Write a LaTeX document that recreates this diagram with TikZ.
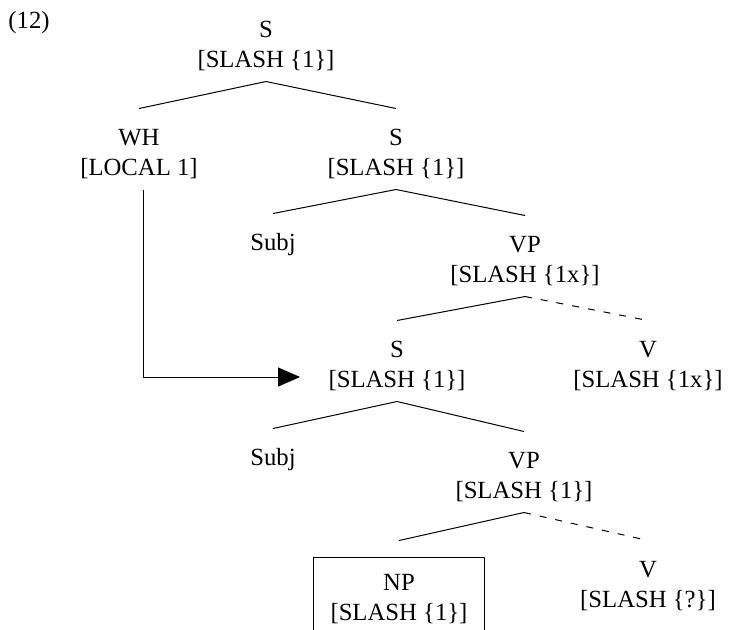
\documentclass[tikz,border=0pt]{standalone}
\usepackage{fontspec}
\setmainfont{Liberation Serif}
\usetikzlibrary{arrows.meta}
\tikzset{>={Triangle[length=11pt,width=9.5pt]}}
\tikzset{
    cat/.style={align=center, anchor=base, inner xsep=0pt, inner ysep=7pt, text height=26pt, text depth=0pt},
    catone/.style={cat, text height=11pt},
    npbox/.style={cat, inner xsep=8.25pt, inner ysep=0pt, text height=31pt, text depth=4.5pt},
    gapline/.style={dash pattern=on 3.5pt off 4.5pt}
}

\begin{document}
\begin{tikzpicture}[x=0.5pt, y=-0.5pt, line width=0.5pt, line join=round, font=\fontsize{12.35}{15}\selectfont]
    \useasboundingbox (0,0) rectangle (729,629);
    \node[anchor=base west, inner sep=0pt] (ex) at (8,28) {(12)};
    \node[cat] (top) at (266,67) {S\\{}[SLASH \{1\}]};
    \node[cat] (wh) at (139,175) {WH\\{}[LOCAL 1]};
    \node[cat] (s1) at (396,175) {S\\{}[SLASH \{1\}]};
    \node[catone] (subj1) at (273,250) {Subj};
    \node[cat] (vp1) at (525,282) {VP\\{}[SLASH \{1x\}]};
    \node[cat] (s2) at (397,387) {S\\{}[SLASH \{1\}]};
    \node[cat] (v1) at (648,387) {V\\{}[SLASH \{1x\}]};
    \node[catone] (subj2) at (273,465) {Subj};
    \node[cat] (vp2) at (524,498) {VP\\{}[SLASH \{1\}]};
    \node[npbox] (np) at (399,620) {NP\\{}[SLASH \{1\}]};
    \node[cat] (v2) at (648,607) {V\\{}[SLASH \{?\}]};
    \coordinate (npTop) at ([yshift=8.5pt]np.north);

    \draw (top.south) -- (wh.north);
    \draw (top.south) -- (s1.north);
    \draw (s1.south) -- (subj1.north);
    \draw (s1.south) -- (vp1.north);
    \draw (vp1.south) -- (s2.north);
    \draw[gapline] (vp1.south) -- (v1.north);
    \draw (s2.south) -- (subj2.north);
    \draw (s2.south) -- (vp2.north);
    \draw (vp2.south) -- (npTop);
    \draw[gapline] (vp2.south) -- (v2.north);
    \draw (np.south west) -- (np.north west) -- (np.north east) -- (np.south east);
    \draw[->] ([xshift=2pt]wh.south) |- ([xshift=-14pt,yshift=5pt]s2.base west);
\end{tikzpicture}
\end{document}
